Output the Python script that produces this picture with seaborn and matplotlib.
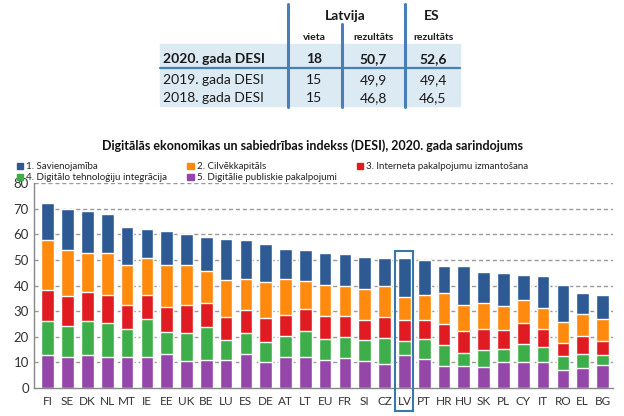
import numpy as np
import pandas as pd
import matplotlib
matplotlib.use("Agg")
import matplotlib.pyplot as plt
import seaborn as sns
from matplotlib.patches import Rectangle
from matplotlib.lines import Line2D

# ---------- DATA ----------
countries = ["FI", "SE", "DK", "NL", "MT", "IE", "EE", "UK", "BE", "LU", "ES", "DE", "AT", "LT",
             "EU", "FR", "SI", "CZ", "LV", "PT", "HR", "HU", "SK", "PL", "CY", "IT", "RO", "EL", "BG"]

# components, bottom to top
publiskie = [13.0, 12.0, 13.0, 12.1, 12.0, 12.1, 13.5, 10.7, 10.8, 11.1, 13.3, 10.1, 12.1, 12.1,
             10.9, 11.6, 10.4, 9.4, 12.9, 11.3, 8.5, 8.7, 8.2, 10.0, 10.3, 10.1, 7.2, 7.7, 9.2]
integracija = [13.3, 12.3, 13.0, 13.3, 10.9, 14.8, 8.2, 10.8, 13.1, 7.5, 8.3, 7.7, 8.2, 10.0,
               8.2, 8.2, 8.5, 10.0, 5.4, 7.9, 8.4, 5.1, 6.6, 5.3, 7.1, 6.0, 5.2, 5.8, 3.7]
internets = [11.8, 11.5, 11.5, 11.1, 9.7, 9.4, 10.0, 11.1, 9.3, 9.1, 9.0, 9.5, 8.2, 8.7,
             8.9, 8.4, 7.8, 8.2, 8.4, 7.5, 8.2, 8.4, 8.2, 7.5, 8.0, 6.9, 5.3, 7.0, 5.4]
cilvekkapitals = [19.5, 17.9, 15.4, 16.2, 15.5, 14.4, 16.4, 15.5, 12.6, 14.6, 12.1, 14.1, 14.2, 10.8,
                  12.2, 11.7, 12.1, 12.1, 8.7, 9.6, 12.2, 10.4, 10.4, 9.4, 9.1, 8.3, 8.2, 8.6, 8.6]
savienojamiba = [14.7, 16.3, 16.3, 15.2, 14.7, 11.3, 13.1, 12.2, 13.0, 15.8, 14.9, 14.9, 11.7, 12.2,
                 12.5, 12.4, 12.4, 11.0, 15.3, 13.8, 10.2, 14.9, 11.9, 12.8, 9.5, 12.4, 14.4, 8.2, 9.6]

labels = ["1. Savienojamība", "2. Cilvēkkapitāls", "3. Interneta pakalpojumu izmantošana",
          "4. Digitālo tehnoloģiju integrācija", "5. Digitālie publiskie pakalpojumi"]
colors = ["#2E5A94", "#FF8A0D", "#E11B22", "#3DAE4A", "#9447A8"]

table_rows = ["2020. gada DESI", "2019. gada DESI", "2018. gada DESI"]
lv_rank = ["18", "15", "15"]
lv_score = ["50,7", "49,9", "46,8"]
es_score = ["52,6", "49,4", "46,5"]

# ---------- LONG TABLE ----------
df = pd.DataFrame({"country": countries,
                   "5": publiskie, "4": integracija, "3": internets,
                   "2": cilvekkapitals, "1": savienojamiba})
df["c5"] = df["5"]
df["c4"] = df["c5"] + df["4"]
df["c3"] = df["c4"] + df["3"]
df["c2"] = df["c3"] + df["2"]
df["c1"] = df["c2"] + df["1"]

sns.set_style("white")
plt.rcParams["font.family"] = ["Lato", "DejaVu Sans"]

fig = plt.figure(figsize=(6.24, 4.16), dpi=100)
ax = fig.add_axes([0.055, 0.067, 0.928, 0.493])

# stacked bars: draw cumulative totals from top layer down
for key, col in zip(["c1", "c2", "c3", "c4", "c5"], colors):
    sns.barplot(data=df, x="country", y=key, color=col, width=0.64,
                saturation=1, ax=ax, zorder=2)

ax.set_ylim(0, 80)
ax.set_xlim(-0.68, len(countries) - 0.45)
ax.set_yticks(range(0, 81, 10))
ax.set_xlabel("")
ax.set_ylabel("")
ax.tick_params(axis="both", length=0, colors="#333333")
ax.tick_params(axis="x", labelsize=8.5, pad=6)
ax.tick_params(axis="y", labelsize=9.5, pad=4)
for y in range(10, 81, 10):
    ax.axhline(y, color="#9a9a9a", lw=1.0, ls=(0, (3, 2)), zorder=0)
for s in ["top", "right"]:
    ax.spines[s].set_visible(False)
for s in ["left", "bottom"]:
    ax.spines[s].set_color("#888888")
    ax.spines[s].set_linewidth(1.0)

# LV highlight box
lv = countries.index("LV")
ax.add_patch(Rectangle((lv - 0.45, -9.0), 0.9, 62.5, fill=False, ec="#3B78AA",
                       lw=1.5, clip_on=False, zorder=5))

# legend (order so rows read 1,2,3 / 4,5)
handles = [Rectangle((0, 0), 1, 1, color=c) for c in colors]
order = [0, 3, 1, 4, 2]
ax.legend([handles[i] for i in order], [labels[i] for i in order], ncol=3,
          loc="lower left", bbox_to_anchor=(-0.037, 0.985), frameon=False,
          fontsize=7, handlelength=0.65, handleheight=0.65, handletextpad=0.3,
          columnspacing=2.1, labelspacing=0.2, borderaxespad=0, labelcolor="#222222")

fig.text(0.5, 0.65, "Digitālās ekonomikas un sabiedrības indekss (DESI), 2020. gada sarindojums",
         ha="center", va="center", fontsize=9, fontweight="bold", color="#111111")

# ---------- TABLE ----------
W, H = 624.0, 416.0
def fx(px):
    return px / W
def fy(py):
    return 1 - py / H

fig.patches.append(Rectangle((fx(160), fy(106)), fx(460) - fx(160), (106 - 44) / H,
                             transform=fig.transFigure, color="#DCEAF4", zorder=0))
line_col = "#4A7FB5"
fig.lines.append(Line2D([fx(160), fx(460)], [fy(68), fy(68)], transform=fig.transFigure,
                        color=line_col, lw=1.6))
fig.lines.append(Line2D([fx(288), fx(288)], [fy(4), fy(107)], transform=fig.transFigure,
                        color=line_col, lw=2.2))
fig.lines.append(Line2D([fx(342), fx(342)], [fy(24), fy(107)], transform=fig.transFigure,
                        color=line_col, lw=2.2))
fig.lines.append(Line2D([fx(405), fx(405)], [fy(4), fy(107)], transform=fig.transFigure,
                        color=line_col, lw=2.2))

tc = "#1a1a1a"
fig.text(fx(345), fy(16), "Latvija", ha="center", va="center", fontsize=10, fontweight="bold", color=tc)
fig.text(fx(432), fy(16), "ES", ha="center", va="center", fontsize=10, fontweight="bold", color=tc)
fig.text(fx(314), fy(38), "vieta", ha="center", va="center", fontsize=7.5, fontweight="bold", color=tc)
fig.text(fx(373), fy(38), "rezultāts", ha="center", va="center", fontsize=7.5, fontweight="bold", color=tc)
fig.text(fx(433), fy(38), "rezultāts", ha="center", va="center", fontsize=7.5, fontweight="bold", color=tc)

row_y = [59, 80, 98]
for i, yy in enumerate(row_y):
    w = "bold" if i == 0 else "normal"
    fig.text(fx(163), fy(yy), table_rows[i], ha="left", va="center", fontsize=10, fontweight=w, color=tc)
    fig.text(fx(314), fy(yy), lv_rank[i], ha="center", va="center", fontsize=10, fontweight=w, color=tc)
    fig.text(fx(373), fy(yy), lv_score[i], ha="center", va="center", fontsize=10, fontweight=w, color=tc)
    fig.text(fx(433), fy(yy), es_score[i], ha="center", va="center", fontsize=10, fontweight=w, color=tc)

fig.savefig("out.png", dpi=100)
